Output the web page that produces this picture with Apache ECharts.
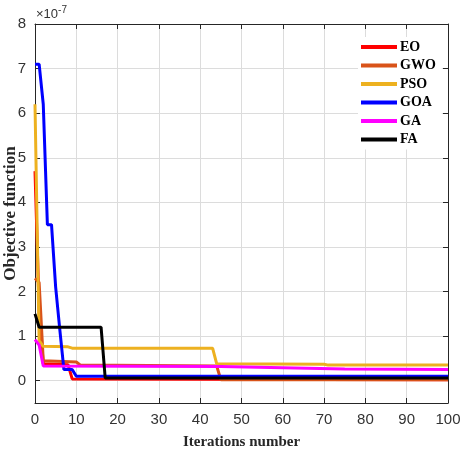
<!DOCTYPE html>
<html>
<head>
<meta charset="utf-8">
<script src="https://cdn.jsdelivr.net/npm/echarts@6/dist/echarts.min.js"></script>
<style>
  html, body { margin: 0; padding: 0; background: #fff; }
  #chart { width: 464px; height: 451px; }
</style>
</head>
<body>
<div id="chart"></div>
<script>
// Convergence curves, values in units of 1e-7.
// Each series is a list of [iteration, value] breakpoints (piecewise-linear).
const seriesNames = ['EO', 'GWO', 'PSO', 'GOA', 'GA', 'FA'];
const seriesColors = ['#FF0000', '#D95319', '#EDB120', '#0000FF', '#FF00FF', '#000000'];

const eo = [[0, 4.7], [1, 1.6], [2, 0.38], [8, 0.36], [9, 0.04], [100, 0.02]];
const gwo = [[0, 2.3], [1, 2.2], [2, 0.45], [10, 0.42], [11, 0.35], [44, 0.33], [45, 0.02], [100, 0.02]];
const pso = [[0, 6.2], [1, 0.9], [2, 0.77], [8, 0.76], [9, 0.73], [43, 0.73], [44, 0.38], [70, 0.37], [71, 0.35], [100, 0.35]];
const goa = [[0, 7.1], [1, 7.1], [2, 6.2], [3, 3.5], [4, 3.5], [5, 2.1], [6, 1.15], [7, 0.25], [9, 0.25], [10, 0.1], [100, 0.1]];
const ga = [[0, 0.92], [1, 0.8], [2, 0.33], [45, 0.32], [60, 0.29], [75, 0.26], [100, 0.25]];
const fa = [[0, 1.5], [1, 1.2], [16, 1.2], [17, 0.06], [100, 0.06]];

const seriesData = [eo, gwo, pso, goa, ga, fa];

const yTicks = [0, 1, 2, 3, 4, 5, 6, 7, 8];

const tickFont = { color: '#333', fontSize: 15, fontFamily: 'Liberation Sans Narrow, Liberation Sans, Arial, sans-serif' };
const nameFont = { color: '#262626', fontSize: 15, fontWeight: 'bold', fontFamily: 'Liberation Serif, Times New Roman, serif' };

const chart = echarts.init(document.getElementById('chart'), null, { renderer: 'canvas' });

const xBase = {
  type: 'value', min: 0, max: 100, interval: 10,
  axisLine: { show: true, onZero: false, lineStyle: { color: '#262626', width: 1 } },
  axisTick: { show: true, inside: true, length: 5, lineStyle: { color: '#262626' } },
};
const yBase = {
  type: 'value', min: -0.5, max: 8,
  axisLine: { show: true, onZero: false, lineStyle: { color: '#262626', width: 1 } },
  axisTick: { show: true, inside: true, length: 5, customValues: yTicks, lineStyle: { color: '#262626' } },
};

chart.setOption({
  animation: false,
  backgroundColor: '#fff',
  grid: { left: 35, right: 16, top: 24, bottom: 48, containLabel: false, outerBoundsMode: 'none' },
  graphic: [{
    type: 'text', left: 36, top: 5,
    style: {
      text: '×10{sup|-7}',
      fill: '#333', fontSize: 13, fontFamily: 'Liberation Sans Narrow, Liberation Sans, Arial, sans-serif',
      rich: { sup: { fontSize: 10, verticalAlign: 'top', padding: [0, 0, 8, 0], fill: '#333' } },
    },
  }],
  legend: {
    data: seriesNames,
    orient: 'vertical',
    left: 358, top: 37,
    backgroundColor: '#fff',
    padding: [3, 6, 3, 3],
    itemWidth: 36, itemHeight: 4, itemGap: 4.5,
    icon: 'rect',
    textStyle: { color: '#000', fontSize: 14, fontWeight: 'bold', fontFamily: 'Liberation Serif, Times New Roman, serif', lineHeight: 14, padding: [0, 0, 0, -2] },
  },
  xAxis: [
    Object.assign({}, xBase, {
      position: 'bottom',
      name: 'Iterations number', nameLocation: 'middle', nameGap: 32, nameMoveOverlap: false, nameTextStyle: nameFont,
      axisLabel: Object.assign({ margin: 9 }, tickFont),
      splitLine: { show: true, lineStyle: { color: '#dcdcdc', width: 1 } },
    }),
    Object.assign({}, xBase, {
      position: 'top',
      axisLabel: { show: false },
      splitLine: { show: false },
    }),
  ],
  yAxis: [
    Object.assign({}, yBase, {
      position: 'left',
      name: 'Objective function', nameLocation: 'middle', nameGap: 16, nameRotate: 90, nameMoveOverlap: false,
      nameTextStyle: Object.assign({}, nameFont, { fontSize: 17 }),
      axisLabel: Object.assign({ margin: 9, customValues: yTicks }, tickFont),
      splitLine: { show: true, lineStyle: { color: '#dcdcdc', width: 1 } },
    }),
    Object.assign({}, yBase, {
      position: 'right',
      axisLabel: { show: false },
      splitLine: { show: false },
    }),
  ],
  series: seriesNames.map((name, i) => ({
    name,
    type: 'line',
    data: seriesData[i],
    xAxisIndex: 0, yAxisIndex: 0,
    showSymbol: false, symbol: 'none',
    lineStyle: { color: seriesColors[i], width: 3 },
    itemStyle: { color: seriesColors[i] },
    z: 2 + i,
  })),
});
</script>
</body>
</html>
